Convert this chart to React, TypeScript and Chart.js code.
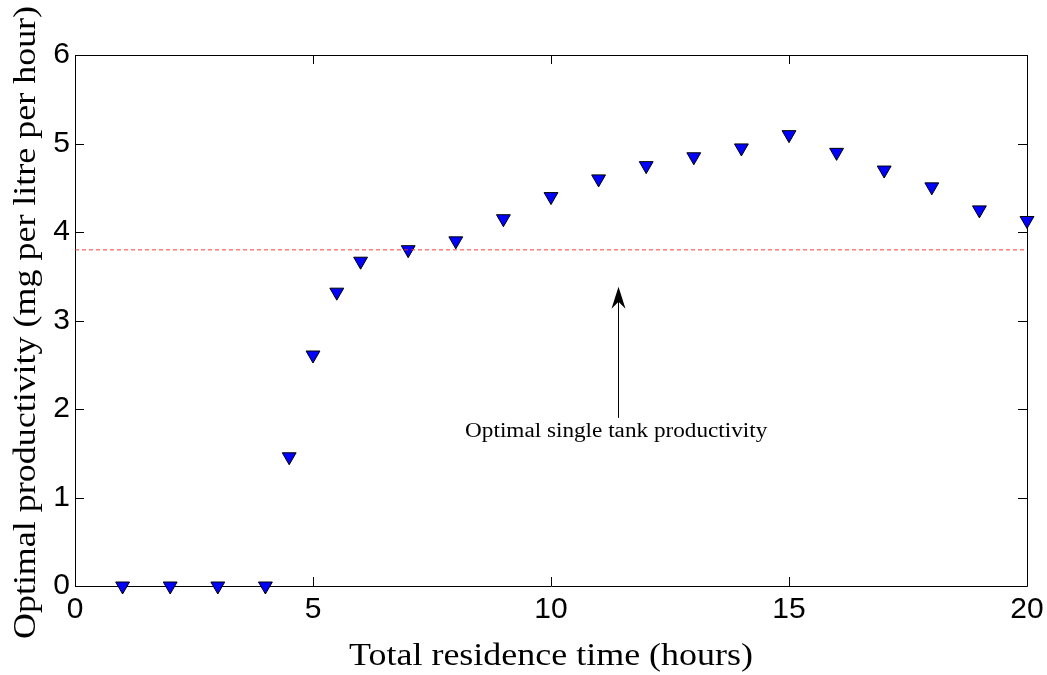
import React, { useEffect, useRef } from "react";
import { Chart, registerables } from "chart.js";

Chart.register(...registerables);

// ---- data ----
const residenceTime = [1, 2, 3, 4, 4.5, 5, 5.5, 6, 7, 8, 9, 10, 11, 12, 13, 14, 15, 16, 17, 18, 19, 20];
const productivity = [0, 0, 0, 0, 1.46, 2.61, 3.32, 3.67, 3.8, 3.9, 4.15, 4.4, 4.6, 4.75, 4.85, 4.95, 5.1, 4.9, 4.7, 4.51, 4.25, 4.13];
const singleTankX = [0, 20];
const singleTankY = [3.8, 3.8];
const xTicks = [0, 5, 10, 15, 20];
const yTicks = [0, 1, 2, 3, 4, 5, 6];
const xTitle = "Total residence time (hours)";
const yTitle = "Optimal productivity (mg per litre per hour)";
const annotationText = "Optimal single tank productivity";
const arrowX = 11.4;
const arrowFromY = 1.9;
const arrowToY = 3.38;
const labelX = 11.37;
const labelY = 1.68;

const SANS = "'Liberation Sans', Arial, Helvetica, sans-serif";
const SERIF = "'Liberation Serif', 'Times New Roman', Times, serif";
const STRETCH = 1.16;

function stretchedText(ctx: any, text: string, x: number, y: number, font: string, rot: number, sx: number) {
  ctx.save();
  ctx.translate(x, y);
  ctx.rotate(rot);
  ctx.scale(sx, 1);
  ctx.font = font;
  ctx.fillStyle = "#000";
  ctx.textAlign = "center";
  ctx.textBaseline = "alphabetic";
  ctx.fillText(text, 0, 0);
  ctx.restore();
}

const framePlugin = {
  id: "frame",
  beforeDatasetsDraw(chart: any) {
    const { ctx, chartArea } = chart;
    const { left, right, top, bottom } = chartArea;
    const xs = chart.scales.x;
    const ys = chart.scales.y;
    ctx.save();
    ctx.strokeStyle = "#000";
    ctx.lineWidth = 1;
    ctx.beginPath();
    ctx.rect(Math.round(left) + 0.5, Math.round(top) + 0.5, Math.round(right - left), Math.round(bottom - top));
    ctx.stroke();
    const tl = 9;
    ctx.beginPath();
    xTicks.forEach((v) => {
      const px = Math.round(xs.getPixelForValue(v)) + 0.5;
      ctx.moveTo(px, bottom);
      ctx.lineTo(px, bottom - tl);
      ctx.moveTo(px, top);
      ctx.lineTo(px, top + tl);
    });
    yTicks.forEach((v) => {
      const py = Math.round(ys.getPixelForValue(v)) + 0.5;
      ctx.moveTo(left, py);
      ctx.lineTo(left + tl, py);
      ctx.moveTo(right, py);
      ctx.lineTo(right - tl, py);
    });
    ctx.stroke();
    ctx.restore();
  },
  afterDraw(chart: any) {
    const { ctx, chartArea } = chart;
    const xs = chart.scales.x;
    const ys = chart.scales.y;
    ctx.save();
    // axis titles
    stretchedText(ctx, xTitle, (chartArea.left + chartArea.right) / 2, 665, `31px ${SERIF}`, 0, STRETCH);
    stretchedText(ctx, yTitle, 35, (chartArea.top + chartArea.bottom) / 2 + 2, `31px ${SERIF}`, -Math.PI / 2, STRETCH);
    // arrow
    const ax = Math.round(xs.getPixelForValue(arrowX)) + 0.5;
    const y0 = ys.getPixelForValue(arrowFromY);
    const y1 = ys.getPixelForValue(arrowToY);
    ctx.strokeStyle = "#000";
    ctx.fillStyle = "#000";
    ctx.lineWidth = 1;
    ctx.beginPath();
    ctx.moveTo(ax, y0);
    ctx.lineTo(ax, y1 + 12);
    ctx.stroke();
    ctx.beginPath();
    ctx.moveTo(ax, y1);
    ctx.lineTo(ax - 7, y1 + 22);
    ctx.lineTo(ax, y1 + 15);
    ctx.lineTo(ax + 7, y1 + 22);
    ctx.closePath();
    ctx.fill();
    // annotation label
    stretchedText(ctx, annotationText, xs.getPixelForValue(labelX), ys.getPixelForValue(labelY), `20px ${SERIF}`, 0, STRETCH);
    ctx.restore();
  },
};

export default function App() {
  const canvasRef = useRef<HTMLCanvasElement | null>(null);

  useEffect(() => {
    if (!canvasRef.current) return;
    const chart = new Chart(canvasRef.current, {
      type: "scatter",
      data: {
        datasets: [
          {
            label: "single tank",
            data: singleTankX.map((x, i) => ({ x, y: singleTankY[i] })),
            showLine: true,
            borderColor: "rgba(255, 40, 40, 0.6)",
            borderWidth: 1.5,
            borderDash: [4, 3],
            pointRadius: 0,
            fill: false,
          } as any,
          {
            label: "productivity",
            data: residenceTime.map((x, i) => ({ x, y: productivity[i] })),
            pointStyle: "triangle",
            rotation: 180,
            pointRadius: 8,
            pointHoverRadius: 8,
            backgroundColor: "#0000ff",
            borderColor: "#000",
            borderWidth: 1,
            clip: false,
          } as any,
        ],
      },
      options: {
        animation: false,
        responsive: true,
        maintainAspectRatio: false,
        layout: { padding: { top: 55, right: 20, left: 0, bottom: 0 } },
        plugins: { legend: { display: false }, tooltip: { enabled: false } },
        scales: {
          x: {
            type: "linear",
            min: 0,
            max: 20,
            afterBuildTicks: (s: any) => {
              s.ticks = xTicks.map((v) => ({ value: v }));
            },
            afterFit: (s: any) => {
              s.height = 89;
              s.paddingLeft = 0;
              s.paddingRight = 0;
            },
            grid: { drawOnChartArea: false, drawTicks: false },
            border: { display: false },
            ticks: {
              padding: 6,
              color: "#000",
              font: { family: SANS, size: 30 },
              maxRotation: 0,
              callback: (v: any) => String(v),
            },
            title: { display: false },
          },
          y: {
            type: "linear",
            min: 0,
            max: 6,
            afterBuildTicks: (s: any) => {
              s.ticks = yTicks.map((v) => ({ value: v }));
            },
            afterFit: (s: any) => {
              s.width = 75;
              s.paddingTop = 0;
              s.paddingBottom = 0;
            },
            grid: { drawOnChartArea: false, drawTicks: false },
            border: { display: false },
            ticks: {
              padding: 5,
              color: "#000",
              font: { family: SANS, size: 30 },
              callback: (v: any) => String(v),
            },
            title: { display: false },
          },
        },
      } as any,
      plugins: [framePlugin],
    });
    return () => chart.destroy();
  }, []);

  return (
    <div style={{ position: "absolute", left: 0, top: 0, width: 1047, height: 675, background: "#fff" }}>
      <canvas ref={canvasRef} />
    </div>
  );
}
